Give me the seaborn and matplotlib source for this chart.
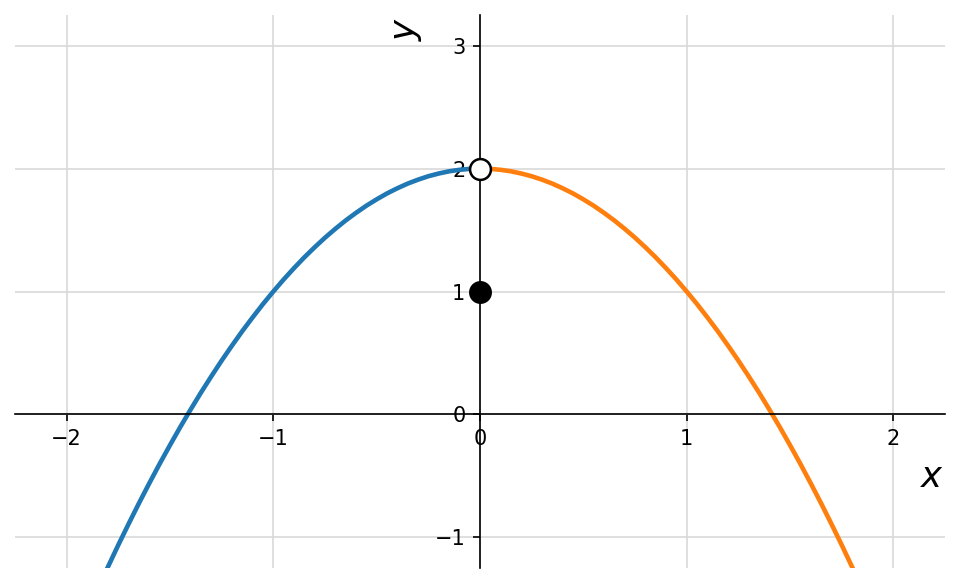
import numpy as np
import matplotlib
matplotlib.use('Agg')
import matplotlib.pyplot as plt
import seaborn as sns

# points, left branch (blue) and right branch (orange)
x_left = [-1.85, -1.8, -1.75, -1.7, -1.65, -1.6, -1.55, -1.5, -1.45, -1.4,
          -1.35, -1.3, -1.25, -1.2, -1.15, -1.1, -1.05, -1.0, -0.95, -0.9,
          -0.85, -0.8, -0.75, -0.7, -0.65, -0.6, -0.55, -0.5, -0.45, -0.4,
          -0.35, -0.3, -0.25, -0.2, -0.15, -0.1, -0.05, 0.0]
y_left = [-1.422, -1.24, -1.062, -0.89, -0.722, -0.56, -0.402, -0.25, -0.102, 0.04,
          0.178, 0.31, 0.438, 0.56, 0.678, 0.79, 0.898, 1.0, 1.098, 1.19,
          1.278, 1.36, 1.438, 1.51, 1.578, 1.64, 1.698, 1.75, 1.798, 1.84,
          1.878, 1.91, 1.938, 1.96, 1.978, 1.99, 1.998, 2.0]
x_right = [0.0, 0.05, 0.1, 0.15, 0.2, 0.25, 0.3, 0.35, 0.4, 0.45,
           0.5, 0.55, 0.6, 0.65, 0.7, 0.75, 0.8, 0.85, 0.9, 0.95,
           1.0, 1.05, 1.1, 1.15, 1.2, 1.25, 1.3, 1.35, 1.4, 1.45,
           1.5, 1.55, 1.6, 1.65, 1.7, 1.75, 1.8, 1.85]
y_right = [2.0, 1.998, 1.99, 1.978, 1.96, 1.938, 1.91, 1.878, 1.84, 1.798,
           1.75, 1.698, 1.64, 1.578, 1.51, 1.438, 1.36, 1.278, 1.19, 1.098,
           1.0, 0.898, 0.79, 0.678, 0.56, 0.438, 0.31, 0.178, 0.04, -0.102,
           -0.25, -0.402, -0.56, -0.722, -0.89, -1.062, -1.24, -1.422]

# the special points at x = 0
open_pt = (0, 2)
filled_pt = (0, 1)

x_ticks = [-2, -1, 0, 1, 2]
y_ticks = [-1, 0, 1, 2, 3]

fig, ax = plt.subplots(figsize=(959 / 150, 584 / 150), dpi=150)

sns.lineplot(x=x_left, y=y_left, ax=ax, color='#1f77b4', lw=2.2, sort=False)
sns.lineplot(x=x_right, y=y_right, ax=ax, color='#ff7f0e', lw=2.2, sort=False)

ax.plot(*open_pt, 'o', ms=10, mfc='white', mec='black', mew=1.2, zorder=5, clip_on=False)
ax.plot(*filled_pt, 'o', ms=10, color='black', zorder=5, clip_on=False)

ax.set_xlim(-2.25, 2.25)
ax.set_ylim(-1.25, 3.25)
ax.set_xticks(x_ticks)
ax.set_yticks(y_ticks)
ax.tick_params(labelsize=10)

# axes through the origin
ax.spines['left'].set_position('zero')
ax.spines['bottom'].set_position('zero')
ax.spines['right'].set_visible(False)
ax.spines['top'].set_visible(False)

ax.grid(True, color='#d9d9d9', lw=0.8)
ax.set_axisbelow(True)

ax.set_xlabel('$x$', fontsize=17)
ax.set_ylabel('$y$', fontsize=17)
ax.xaxis.set_label_coords(0.986, 0.195)
ax.yaxis.set_label_coords(0.44, 0.975)

plt.subplots_adjust(left=15 / 959, right=945 / 959, bottom=16 / 584, top=569 / 584)
plt.savefig('out.png', dpi=150)
